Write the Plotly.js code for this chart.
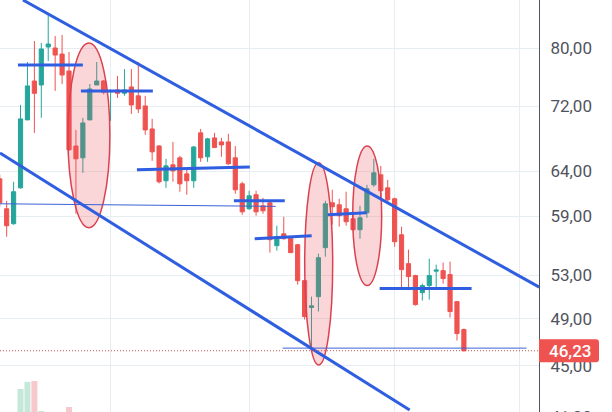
<!DOCTYPE html>
<html>
<head>
<meta charset="utf-8">
<script src="https://cdn.plot.ly/plotly-3.0.1.min.js"></script>
<style>
	html, body { margin: 0; padding: 0; background: #fff; overflow: hidden; height: 412px; }
	#chart_container { width: 612px; height: 440px; }
</style>
</head>
<body>
<div id="chart_container"></div>
<script>
// prices, one entry per session
var open_prices = [63.12,59.79,58.19,62.1,70.23,75.36,74.82,80.15,80,79.13,76.74,66.99,65.57,70.23,74.82,75.36,73.9,74.15,73.7,74.55,73.36,72.03,69.09,66.99,62.9,64.74,65.57,63.69,62.9,68.6,65.69,67.98,67.49,67.49,65.57,62.55,59.79,61.33,60.11,60.44,55.92,57.14,56.84,56.02,52.49,50,50.99,55.72,60.44,60.22,59.79,58.72,57.56,59.36,62.44,63.58,62.1,60.88,57.04,54.13,52.97,51.36,52.02,53.4,53.45,53.07,50.53,48.04];
var high_prices = [63.6,60.66,62.78,72.16,78,81.02,80.73,84.98,81.76,81.91,79.42,68.97,70.49,74.95,78,75.5,74.2,76.04,77.01,77.01,78,73.36,70.36,67.1,65.45,67.49,65.81,64.16,66.99,69.09,67.98,68.6,67.98,68.48,66.99,62.78,61.77,61.77,60.99,60.55,57.98,58.93,56.9,56.1,52.55,50.99,55.12,60.66,61.88,60.88,61.66,59.14,60.11,62.44,65.45,64.62,63.01,61,57.88,55.52,53.05,52.21,54.62,54.03,54.23,54.33,50.6,48.13];
var low_prices = [60,56.84,58.09,62,70.23,68.6,70.49,78.14,74.02,74.95,66.4,59.25,63.81,70.23,74.82,73.56,70.1,73.09,73.36,70.99,71.12,68.36,65.21,62.6,62.1,62.78,61.66,61.33,62.1,65.09,65.09,66.75,65.69,64.74,61.43,59.14,59.68,59.04,59.25,55.22,55.42,56.53,55.2,52.11,48.92,46.5,49.63,54.82,58.09,57.88,57.98,57.46,56.63,58.82,62.21,60.77,60.33,55.82,51.74,51.74,50.17,50.63,50.72,51.83,52.21,49.1,47.09,46.16];
var close_prices = [60.44,57.98,61.66,70.36,74.69,73.7,79.86,80.58,78.99,76.18,66.52,65.45,69.85,74.28,75.36,73.83,74.02,73.7,74.15,72.16,71.64,68.97,66.28,62.78,64.62,64.04,62.55,62.9,66.87,65.57,67.86,66.8,67.12,64.86,61.88,59.46,61.21,59.46,59.57,56.53,56.84,56.63,55.22,52.49,49.18,50.15,54.72,60.33,60,59.04,58.4,57.56,58.82,62,63.81,61.77,60.77,56.32,53.55,52.88,50.26,52.02,52.97,53.5,52.69,49.63,47.69,46.23];
var sessions = open_prices.map(function(v, i) { return i; });

var volume_sessions = [3, 4, 5, 6, 10];
var volume_values = [11.6, 13.2, 13.4, 6.6, 7.5];
var volume_colors = ['#C6E8DB', '#C6E8DB', '#F8C9CC', '#C6E8DB', '#F8C9CC'];

var price_ticks = [41, 45, 49, 53, 59, 64, 72, 80];
var price_labels = ['41,00', '45,00', '49,00', '53,00', '59,00', '64,00', '72,00', '80,00'];
var time_grid = [16, 36, 57, 75];
var last_price = 46.23;

// drawings as [session, price, session, price]
var channel_lines = [
	[3.35, 87.27, 77.88, 51.88],
	[0.04, 66.15, 59.17, 41.52]
];
var level_lines = [
	[2.63, 77.57, 12.0, 77.57],
	[11.72, 74.02, 22.1, 74.02],
	[19.8, 64.16, 36.1, 64.5],
	[33.8, 60.66, 41.14, 60.66],
	[36.8, 56.63, 45.03, 56.94],
	[47.34, 59.14, 52.97, 59.36],
	[54.84, 51.74, 68.11, 51.74]
];
var thin_lines = [
	[0.04, 60.33, 39.84, 60.05],
	[40.85, 46.45, 76.04, 46.45]
];
var ellipses = [
	[9.84, 80.73, 15.9, 57.77],
	[44.02, 64.98, 48.06, 45.05],
	[50.95, 66.99, 55.13, 52.02]
];

var RED = '#EF5350', GREEN = '#26A69A', BLUE = '#2F5FE0', GRID = '#E6EEF1';

var line_shape = function(c, width, color) {
	return { type: 'line', xref: 'x', yref: 'y', x0: c[0], y0: c[1], x1: c[2], y1: c[3],
		layer: 'above', line: { color: color, width: width } };
};

var shapes = [];
ellipses.forEach(function(c) {
	shapes.push({ type: 'circle', xref: 'x', yref: 'y', x0: c[0], y0: c[1], x1: c[2], y1: c[3],
		layer: 'above', fillcolor: 'rgba(239,83,90,0.24)', line: { color: '#DB4150', width: 1.5 } });
});
thin_lines.forEach(function(c) { shapes.push(line_shape(c, 1, '#3B62D6')); });
channel_lines.forEach(function(c) { shapes.push(line_shape(c, 3, BLUE)); });
level_lines.forEach(function(c) { shapes.push(line_shape(c, 3, BLUE)); });

// last price marker
shapes.push({ type: 'line', xref: 'paper', yref: 'y', x0: 0, x1: 1, y0: last_price, y1: last_price,
	layer: 'above', line: { color: '#C0504D', width: 1, dash: '1px,2px' } });
shapes.push({ type: 'path', xref: 'paper', yref: 'y', xsizemode: 'pixel', ysizemode: 'pixel',
	xanchor: 1, yanchor: last_price, layer: 'above', fillcolor: RED, line: { width: 0 },
	path: 'M 0 -11.5 L 57 -11.5 Q 60 -11.5 60 -8.5 L 60 8.5 Q 60 11.5 57 11.5 L 0 11.5 Z' });

var volume_trace = {
	type: 'bar', x: volume_sessions, y: volume_values, yaxis: 'y2', width: 0.87,
	marker: { color: volume_colors, line: { width: 0 } }, hoverinfo: 'skip'
};

var candle_trace = {
	type: 'candlestick', x: sessions, open: open_prices, high: high_prices, low: low_prices, close: close_prices,
	increasing: { line: { color: GREEN, width: 1 }, fillcolor: GREEN },
	decreasing: { line: { color: RED, width: 1 }, fillcolor: RED },
	whiskerwidth: 0, hoverinfo: 'skip'
};

// plot runs past the window bottom so the 41,00 label is cut off like the reference
var layout = {
	width: 612, height: 440,
	margin: { l: 0, r: 72.5, t: 0, b: 0, pad: 0 },
	paper_bgcolor: '#fff', plot_bgcolor: '#fff',
	showlegend: false, boxgap: 0.14,
	xaxis: {
		type: 'linear', range: [0.0375, 77.84], rangeslider: { visible: false },
		tickmode: 'array', tickvals: time_grid, showticklabels: false, ticks: '',
		showgrid: true, gridcolor: GRID, gridwidth: 1, zeroline: false
	},
	yaxis: {
		type: 'log', side: 'right', range: [1.5947, 1.94086],
		tickmode: 'array', tickvals: price_ticks, ticktext: price_labels, ticks: '',
		ticklabelstandoff: 7,
		tickfont: { family: 'Roboto, sans-serif', size: 17, color: '#50535E' },
		showgrid: true, gridcolor: GRID, gridwidth: 1, zeroline: false,
		showline: true, linecolor: '#50535E', linewidth: 1
	},
	yaxis2: { overlaying: 'y', range: [0, 100], visible: false, fixedrange: true },
	shapes: shapes,
	annotations: [{
		xref: 'paper', yref: 'y', x: 1 + 31 / 539.5, y: Math.log10(last_price), xanchor: 'center', yanchor: 'middle', showarrow: false,
		text: '46,23', font: { family: 'Roboto, sans-serif', size: 17, color: '#fff', weight: 500 }
	}]
};

Plotly.newPlot('chart_container', [volume_trace, candle_trace], layout, { displayModeBar: false, staticPlot: true });
</script>
</body>
</html>
